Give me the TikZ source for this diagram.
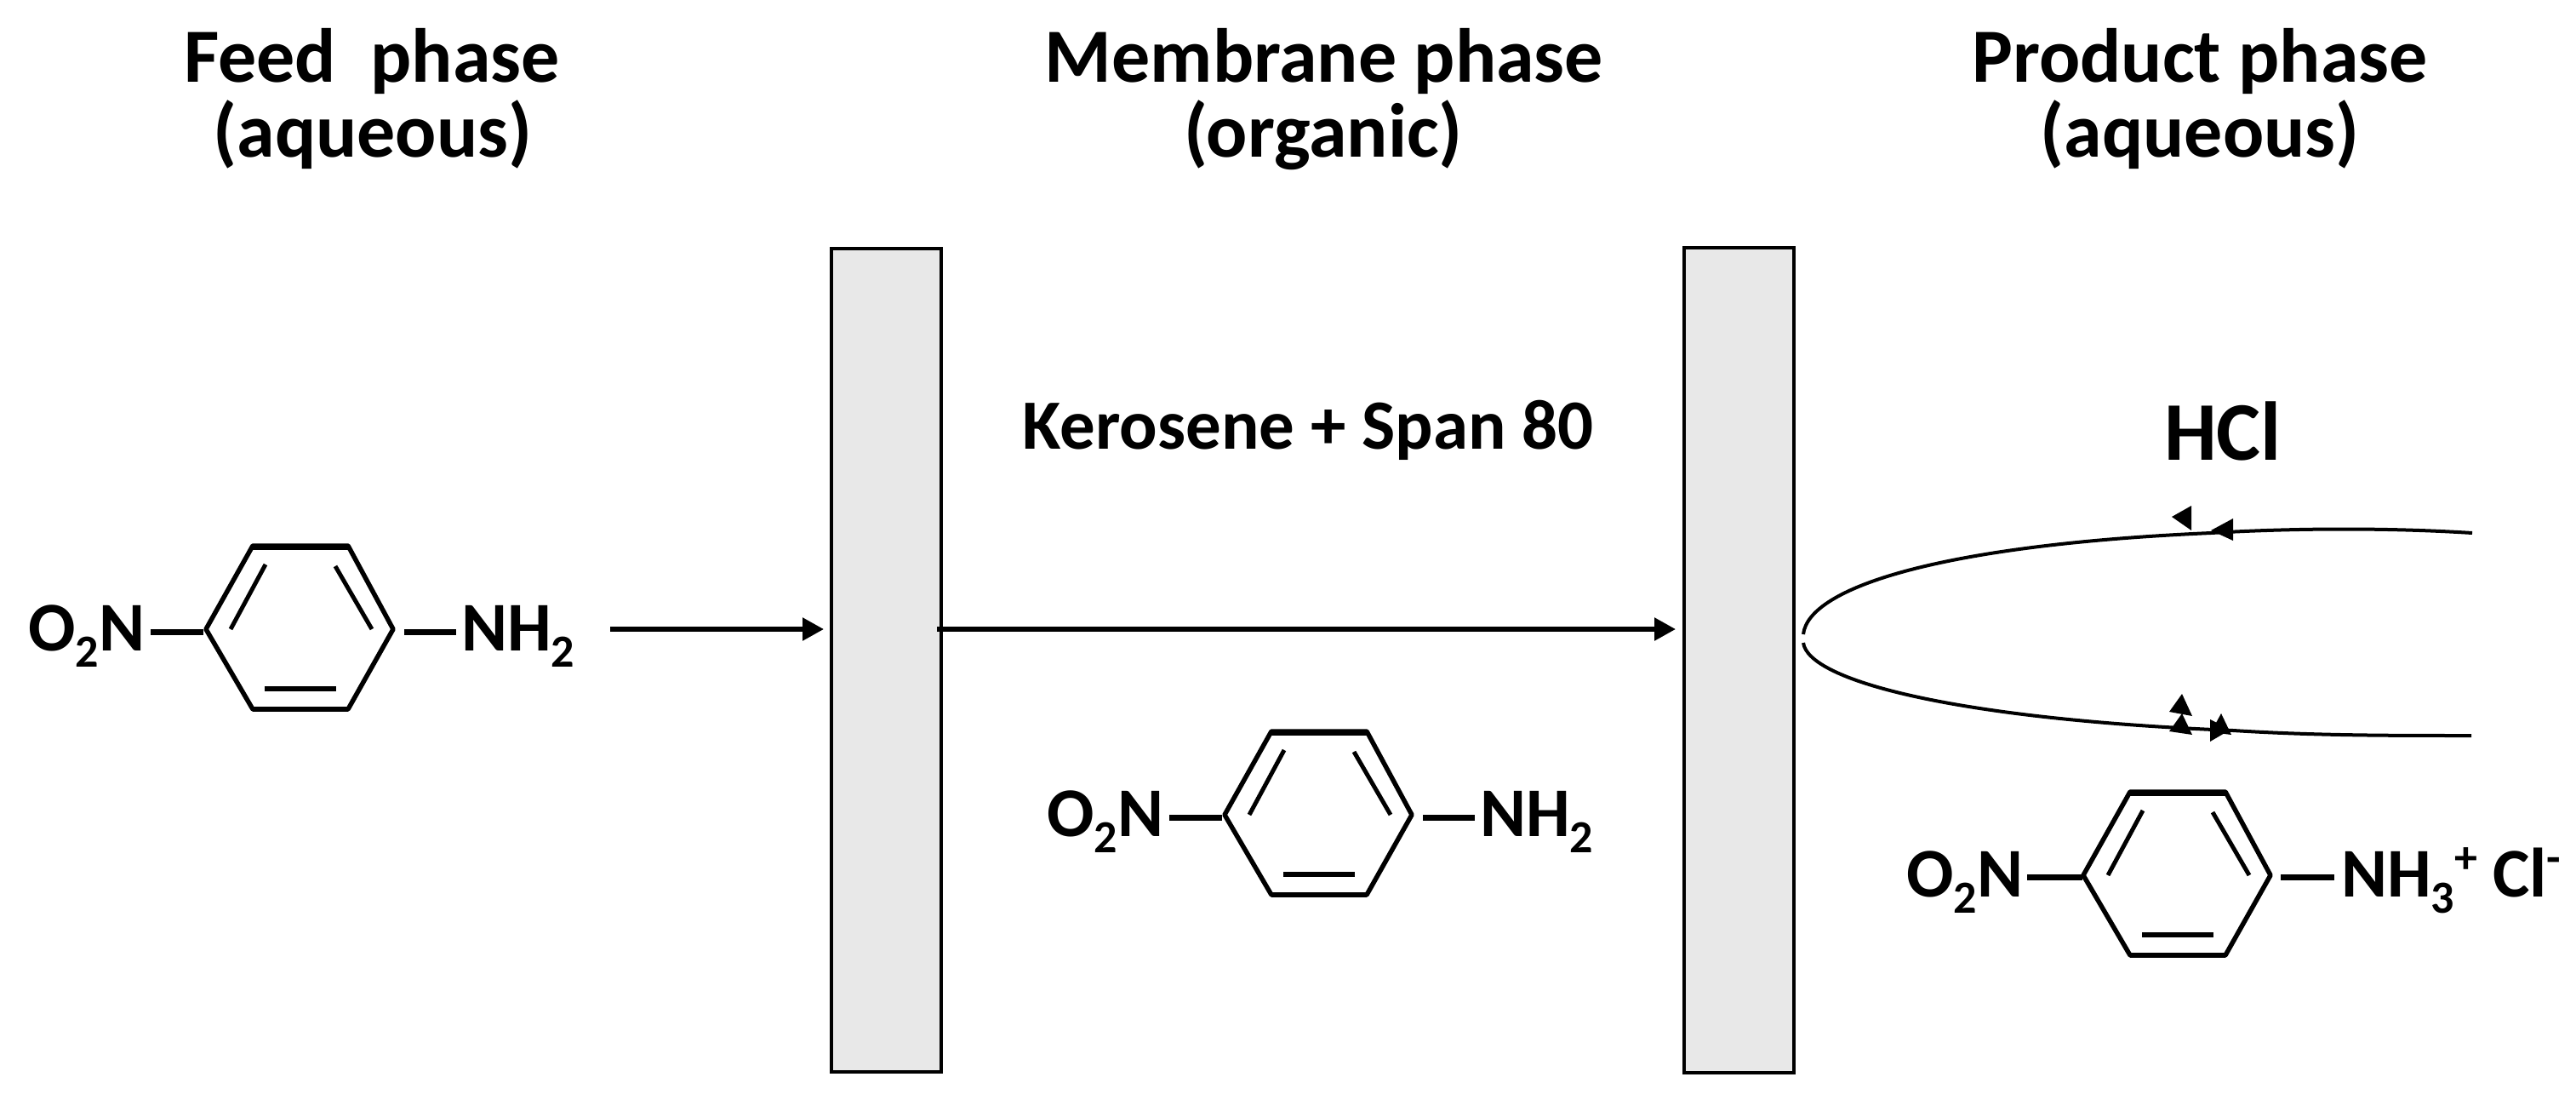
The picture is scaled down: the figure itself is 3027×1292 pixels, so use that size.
\documentclass[tikz,border=0pt]{standalone}
\usepackage{fontspec}
\setmainfont{Carlito}
\usetikzlibrary{arrows.meta}
\newcommand{\headfont}{\fontsize{90}{100}\selectfont\bfseries}
\newcommand{\chemfont}{\fontsize{82}{90}\selectfont\bfseries}
\newcommand{\subsc}[1]{\raisebox{-19pt}{\fontsize{54}{60}\selectfont #1}}
\newcommand{\supsc}[1]{\raisebox{28pt}{\fontsize{54}{60}\selectfont #1}}
\definecolor{wallgrey}{HTML}{E8E8E8}
\tikzset{
  x=1pt,y=-1pt,
  wall/.style={draw=black,line width=4pt,fill=wallgrey},
  headtext/.style={anchor=base,inner sep=0pt,font=\headfont,align=center},
  chemtext/.style={anchor=base west,inner sep=0pt,font=\chemfont},
  bondline/.style={line width=7pt},
  flow/.style={line width=5.5pt,-{Triangle[length=25pt,width=26pt]}},
  curveline/.style={line width=4pt,line join=round},
  tiphead/.style={fill=black,draw=none},
  ringmol/.pic={
    \draw[line width=5.5pt,line join=round] (0,0) -- (55,-98) -- (167,-98) -- (220,0) -- (167,94) -- (55,94) -- cycle;
    \draw[line width=7pt] (55,-97) -- (167,-97);
    \draw[line width=6.5pt] (55,94) -- (167,94);
    \draw[line width=5pt] (70,-76) -- (29,0);
    \draw[line width=5pt] (152,-74) -- (195,0);
    \draw[line width=6pt] (69,70) -- (153,70);
  }
}
\begin{document}
\begin{tikzpicture}
\useasboundingbox (0,0) rectangle (3027,1292);
% walls
\node[wall,minimum width=129pt,minimum height=967pt,inner sep=0pt] (wallL) at (1041.5,775.5) {};
\node[wall,minimum width=129pt,minimum height=969pt,inner sep=0pt] (wallR) at (2043.5,775) {};
% headings
\node[headtext] (feed1) at (437,97) {Feed\ \ phase};
\node[headtext] (feed2) at (438,185) {(aqueous)};
\node[headtext] (memb1) at (1556,97) {Membrane phase};
\node[headtext] (memb2) at (1555,185) {(organic)};
\node[headtext] (prod1) at (2585,97) {Product phase};
\node[headtext] (prod2) at (2585,185) {(aqueous)};
\node[anchor=base,inner sep=0pt,font=\fontsize{83}{92}\selectfont\bfseries] (kero) at (1537,527) {Kerosene + Span 80};
\node[anchor=base,inner sep=0pt,font=\fontsize{98}{110}\selectfont\bfseries] (hcl) at (2612,540) {HCl};
% molecule 1
\pic at (242,739) {ringmol};
\node[chemtext] (oa) at (33,764) {O\subsc{2}N};
\node[chemtext] (na) at (542,764) {NH\subsc{2}};
\coordinate (a1) at (177,742); \coordinate (a2) at (239,742);
\coordinate (a3) at (475,742); \coordinate (a4) at (536,742);
\draw[bondline] (a1) -- (a2);
\draw[bondline] (a3) -- (a4);
% molecule 2
\pic at (1439,957) {ringmol};
\node[chemtext] (ob) at (1230,982) {O\subsc{2}N};
\node[chemtext] (nb) at (1739,982) {NH\subsc{2}};
\coordinate (b1) at (1374,960); \coordinate (b2) at (1436,960);
\coordinate (b3) at (1672,960); \coordinate (b4) at (1733,960);
\draw[bondline] (b1) -- (b2);
\draw[bondline] (b3) -- (b4);
% molecule 3
\pic at (2448,1028) {ringmol};
\node[chemtext] (oc) at (2240,1053) {O\subsc{2}N};
\node[chemtext] (nc) at (2751,1053) {NH\subsc{3}\supsc{+}\hspace{18pt}Cl\supsc{-}};
\coordinate (c1) at (2382,1030); \coordinate (c2) at (2447,1030);
\coordinate (c3) at (2680,1030); \coordinate (c4) at (2743,1030);
\draw[bondline] (c1) -- (c2);
\draw[bondline] (c3) -- (c4);
% arrows
\coordinate (f1) at (717,739); \coordinate (f2) at (968,739);
\coordinate (m1) at (1101,739); \coordinate (m2) at (1969,739);
\draw[flow] (f1) -- (f2);
\draw[flow] (m1) -- (m2);
% curves
\coordinate (ctop) at (2119,745); \coordinate (cbot) at (2119,755);
\coordinate (tipT) at (2598,626); \coordinate (tipB) at (2624,858);
\coordinate (endT) at (2905,626); \coordinate (endB) at (2904,864);
\draw[curveline] (endT) .. controls (2810,620) and (2700,620) .. (tipT) .. controls (2280,640) and (2125,690) .. (ctop);
\draw[curveline] (cbot) .. controls (2125,800) and (2300,845) .. (tipB) .. controls (2720,864) and (2810,864) .. (endB);
% stray arrow heads
\fill[tiphead] (2598,623) -- (2624,609) -- (2624,635) -- cycle;
\fill[tiphead] (2575,594) -- (2575,623) -- (2552,607) -- cycle;
\fill[tiphead] (2564,815) -- (2549,836) -- (2576,841) -- cycle;
\fill[tiphead] (2564,838) -- (2549,859) -- (2576,863) -- cycle;
\fill[tiphead] (2610,838) -- (2622,863) -- (2598,860) -- cycle;
\fill[tiphead] (2597,845) -- (2597,871) -- (2621,857) -- cycle;
\end{tikzpicture}
\end{document}
